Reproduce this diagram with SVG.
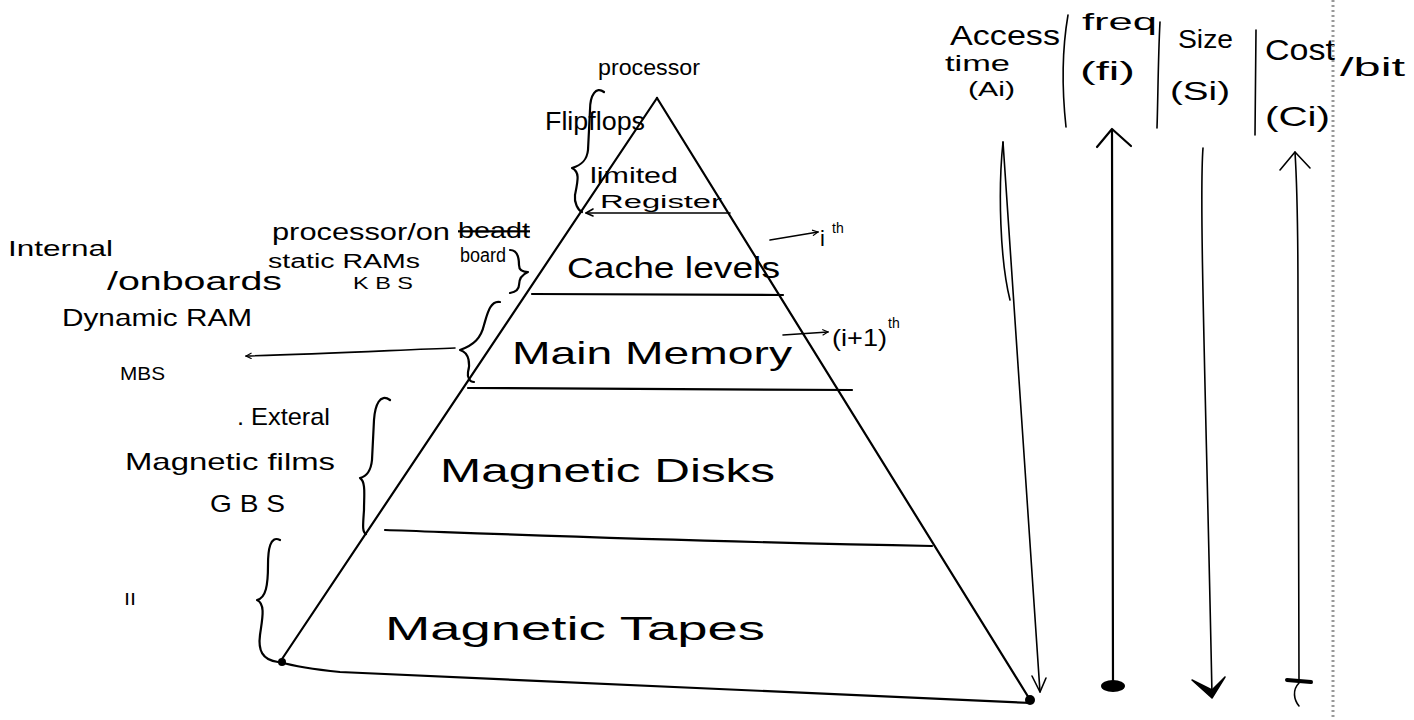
<svg xmlns="http://www.w3.org/2000/svg" width="1414" height="720" viewBox="0 0 1414 720">
<defs>
<style>
text{font-family:"Liberation Sans","DejaVu Sans",sans-serif;fill:#000}
.ln{fill:none;stroke:#000;stroke-width:2.2;stroke-linecap:round;stroke-linejoin:round}
.th{fill:none;stroke:#000;stroke-width:1.6;stroke-linecap:round;stroke-linejoin:round}
</style>
<marker id="oa" viewBox="0 0 10 10" refX="9" refY="5" markerWidth="7" markerHeight="7" orient="auto-start-reverse" markerUnits="userSpaceOnUse">
<path d="M1,1 L9,5 L1,9" fill="none" stroke="#000" stroke-width="1.6"/>
</marker>
</defs>
<rect width="1414" height="720" fill="#fff"/>

<g id="pyramid">
<path class="ln" d="M657,98 L280,662"/>
<path class="ln" d="M657,98 L1032,703"/>
<path class="ln" d="M280,662 C300,668 320,670 340,672 L1032,703"/>
<circle cx="282" cy="662" r="4"/>
<circle cx="1030" cy="700" r="5"/>
</g>

<g id="register">
<path class="th" d="M586,213 L730,213"/>
<path class="th" d="M593,209 L586,213 L593,216"/>
<text x="600" y="208" font-size="18" textLength="122" lengthAdjust="spacingAndGlyphs">Register</text>
</g>
<g id="cache">
<path class="ln" d="M532,294 L783,295"/>
<text x="567" y="278" font-size="30" textLength="213" lengthAdjust="spacingAndGlyphs">Cache levels</text>
</g>
<g id="main-memory">
<path class="ln" d="M468,388 L852,390"/>
<text x="512" y="364" font-size="32" textLength="280" lengthAdjust="spacingAndGlyphs">Main Memory</text>
</g>
<g id="magnetic-disks">
<path class="ln" d="M385,530 C500,534 700,542 932,546"/>
<text x="440" y="482" font-size="34" textLength="335" lengthAdjust="spacingAndGlyphs">Magnetic Disks</text>
</g>
<g id="magnetic-tapes">
<text x="385" y="640" font-size="34" textLength="380" lengthAdjust="spacingAndGlyphs">Magnetic Tapes</text>
</g>

<g id="connectors">
<path class="th" d="M770,240 L818,232" marker-end="url(#oa)"/>
<path class="th" d="M783,335 L828,332" marker-end="url(#oa)"/>
<path class="th" d="M455,348 C400,350 320,354 246,356" marker-end="url(#oa)"/>
</g>

<g id="ith">
<text x="820" y="246" font-size="22">i</text>
<text x="832" y="233" font-size="14">th</text>
</g>
<g id="i1th">
<text x="832" y="346" font-size="24" textLength="55" lengthAdjust="spacingAndGlyphs">(i+1)</text>
<text x="888" y="328" font-size="14">th</text>
</g>

<g id="braces">
<path class="ln" d="M604,92 C596,86 590,95 590,110 L588,150 C587,160 582,165 572,168 C580,172 578,180 575,195 C574,203 578,210 582,212"/>
<path class="ln" d="M510,250 C518,250 519,258 519,265 C519,270 522,272 528,272 C521,275 519,279 519,285 C519,290 515,292 510,293"/>
<path class="ln" d="M500,302 C490,300 487,315 484,325 C481,338 474,345 460,350 C470,353 470,365 468,372 C467,378 470,382 474,382"/>
<path class="ln" d="M390,400 C380,393 375,405 374,420 L372,460 C371,470 368,476 360,478 C366,482 364,495 364,510 C363,525 362,532 366,534"/>
<path class="ln" d="M280,540 C270,535 268,550 268,565 C268,585 266,598 257,600 C266,604 262,620 260,635 C258,650 262,660 278,662"/>
</g>

<g id="register-notes">
<text x="598" y="75" font-size="22" textLength="102" lengthAdjust="spacingAndGlyphs">processor</text>
<text x="545" y="130" font-size="26" textLength="100" lengthAdjust="spacingAndGlyphs">Flipflops</text>
<text x="590" y="183" font-size="22" textLength="88" lengthAdjust="spacingAndGlyphs">limited</text>
</g>
<g id="cache-notes">
<text x="272" y="240" font-size="24" textLength="178" lengthAdjust="spacingAndGlyphs">processor/on</text>
<text x="458" y="238" font-size="22" textLength="72" lengthAdjust="spacingAndGlyphs" text-decoration="line-through">beadt</text>
<text x="460" y="262" font-size="20" textLength="46" lengthAdjust="spacingAndGlyphs">board</text>
<text x="268" y="268" font-size="20" textLength="152" lengthAdjust="spacingAndGlyphs">static  RAMs</text>
<text x="353" y="289" font-size="17" textLength="60" lengthAdjust="spacingAndGlyphs">K B S</text>
</g>
<g id="memory-notes">
<text x="8" y="256" font-size="22" textLength="105" lengthAdjust="spacingAndGlyphs">Internal</text>
<text x="107" y="290" font-size="26" textLength="175" lengthAdjust="spacingAndGlyphs">/onboards</text>
<text x="62" y="326" font-size="24" textLength="190" lengthAdjust="spacingAndGlyphs">Dynamic RAM</text>
<text x="120" y="380" font-size="18" textLength="45" lengthAdjust="spacingAndGlyphs">MBS</text>
</g>
<g id="disk-notes">
<text x="237" y="425" font-size="24" textLength="93" lengthAdjust="spacingAndGlyphs">. Exteral</text>
<text x="125" y="470" font-size="24" textLength="210" lengthAdjust="spacingAndGlyphs">Magnetic films</text>
<text x="210" y="512" font-size="24" textLength="75" lengthAdjust="spacingAndGlyphs">G B S</text>
</g>
<g id="tape-notes">
<text x="124" y="605" font-size="22">ıı</text>
</g>

<g id="access-time">
<text x="950" y="45" font-size="28" textLength="110" lengthAdjust="spacingAndGlyphs">Access</text>
<text x="945" y="71" font-size="22" textLength="65" lengthAdjust="spacingAndGlyphs">time</text>
<text x="968" y="96" font-size="20" textLength="47" lengthAdjust="spacingAndGlyphs">(Ai)</text>
<path class="th" d="M1003,142 L1040,692"/>
<path class="th" d="M1003,142 C998,190 1000,260 1010,300"/>
<path class="th" d="M1032,676 L1040,692 L1046,678"/>
</g>
<g id="freq">
<path class="th" d="M1068,15 C1062,50 1062,90 1066,127"/>
<text x="1082" y="30" font-size="24" textLength="75" lengthAdjust="spacingAndGlyphs">freq</text>
<text x="1080" y="80" font-size="26" textLength="55" lengthAdjust="spacingAndGlyphs">(fi)</text>
<path class="th" d="M1160,22 C1158,60 1158,100 1157,128"/>
<path class="ln" d="M1112,130 L1113,686"/>
<path class="ln" d="M1097,147 L1112,129 L1131,146"/>
<ellipse cx="1113" cy="686" rx="12" ry="6"/>
</g>
<g id="size">
<text x="1178" y="48" font-size="26" textLength="55" lengthAdjust="spacingAndGlyphs">Size</text>
<text x="1170" y="100" font-size="26" textLength="60" lengthAdjust="spacingAndGlyphs">(Si)</text>
<path class="th" d="M1256,30 L1255,135"/>
<path class="th" d="M1203,148 C1199,200 1206,400 1212,695"/>
<path d="M1192,680 L1212,698 L1225,677 L1212,690 Z" fill="#000" stroke="#000" stroke-width="1.5" stroke-linejoin="round"/>
</g>
<g id="cost">
<text x="1265" y="60" font-size="30" textLength="70" lengthAdjust="spacingAndGlyphs">Cost</text>
<text x="1340" y="76" font-size="26" textLength="65" lengthAdjust="spacingAndGlyphs">/bit</text>
<text x="1265" y="126" font-size="28" textLength="65" lengthAdjust="spacingAndGlyphs">(Ci)</text>
<path class="th" d="M1295,152 C1298,200 1298,240 1298,300 L1299,682"/>
<path class="th" d="M1280,170 L1295,152 L1310,168"/>
<path d="M1287,680 L1311,682" stroke="#000" stroke-width="4" stroke-linecap="round"/>
<path class="th" d="M1299,683 C1292,690 1294,700 1299,706"/>
</g>

<path d="M1333,0 L1333,720" stroke="#999" stroke-width="3" stroke-dasharray="2 3" fill="none"/>
</svg>
